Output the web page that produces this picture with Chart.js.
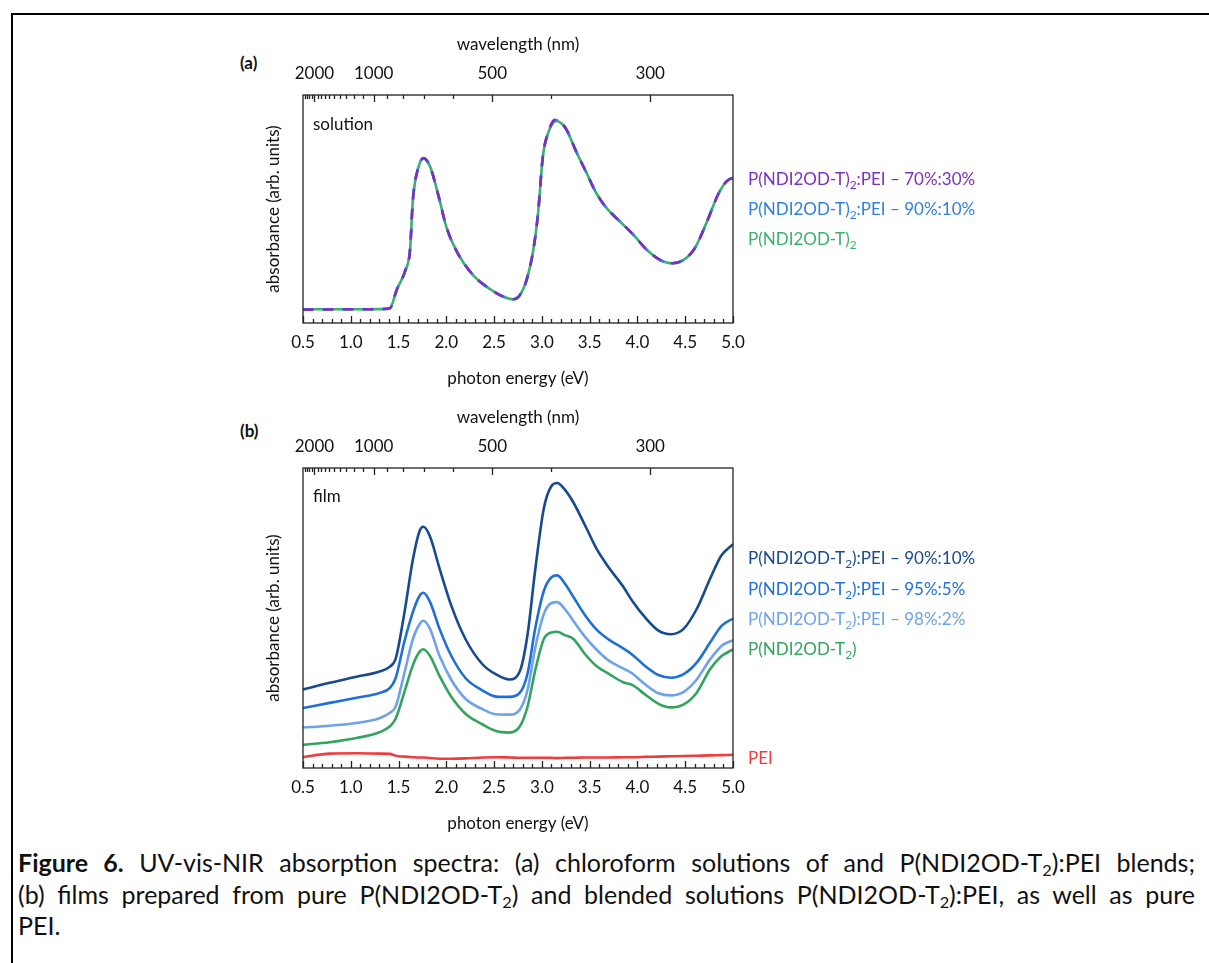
<!DOCTYPE html>
<html>
<head>
<meta charset="utf-8">
<script src="https://cdn.jsdelivr.net/npm/chart.js@4.4.0/dist/chart.umd.min.js"></script>
<style>
    body { margin: 0; background: #fff; font-family: Lato, sans-serif; color: #111; }
    #page { position: relative; width: 1209px; height: 963px; overflow: hidden; background: #fff; }
    #frame { position: absolute; left: 11px; top: 13px; width: 1300px; height: 1000px;
             border-left: 2px solid #000; border-top: 2px solid #000; }
    .abs { position: absolute; white-space: nowrap; }
    canvas { position: absolute; }
    .tag { font-size: 17px; font-weight: bold; }
    .inset { font-size: 17px; }
    .leg { font-size: 17px; line-height: 20px; }
    .leg sub { font-size: 0.7em; vertical-align: -0.3em; line-height: 0; }
    .cap { position: absolute; left: 18px; width: 1177px; font-size: 20px; line-height: 24px;
           text-align: left; white-space: nowrap; }
    .cap.just { text-align: justify; text-align-last: justify; }
    .cap.last { text-align-last: left; }
    .cap sub { font-size: 0.65em; vertical-align: -0.25em; line-height: 0; }
</style>
</head>
<body>
<div id="page">
    <div id="frame"></div>

    <div class="abs tag" style="left:240px; top:52px;">(a)</div>
    <div class="abs tag" style="left:240px; top:420px;">(b)</div>

    <canvas id="chart-a" width="520" height="365" style="left:240px; top:30px;"></canvas>
    <canvas id="chart-b" width="520" height="437" style="left:240px; top:403px;"></canvas>

    <div class="abs inset" style="left:313px; top:113px;">solution</div>
    <div class="abs inset" style="left:313px; top:485px;">film</div>

    <div class="abs leg" style="left:748px; top:169px; color:#7d2fc2;">P(NDI2OD-T)<sub>2</sub>:PEI – 70%:30%</div>
    <div class="abs leg" style="left:748px; top:199px; color:#2f80e0;">P(NDI2OD-T)<sub>2</sub>:PEI – 90%:10%</div>
    <div class="abs leg" style="left:748px; top:229px; color:#3db16b;">P(NDI2OD-T)<sub>2</sub></div>

    <div class="abs leg" style="left:748px; top:548px; color:#174a90;">P(NDI2OD-T<sub>2</sub>):PEI – 90%:10%</div>
    <div class="abs leg" style="left:748px; top:579px; color:#1f6fd8;">P(NDI2OD-T<sub>2</sub>):PEI – 95%:5%</div>
    <div class="abs leg" style="left:748px; top:609px; color:#6ea2ea;">P(NDI2OD-T<sub>2</sub>):PEI – 98%:2%</div>
    <div class="abs leg" style="left:748px; top:639px; color:#33a35f;">P(NDI2OD-T<sub>2</sub>)</div>
    <div class="abs leg" style="left:748px; top:748px; color:#f03c3c;">PEI</div>

    <div class="cap" id="cap1" style="top:850px;"><span><b>Figure 6.</b> UV-vis-NIR absorption spectra: (a) chloroform solutions of and P(NDI2OD-T<sub>2</sub>):PEI blends;</span></div>
    <div class="cap" style="top:882px;"><span>(b) films prepared from pure P(NDI2OD-T<sub>2</sub>) and blended solutions P(NDI2OD-T<sub>2</sub>):PEI, as well as pure</span></div>
    <div class="cap last" style="top:913px;"><span>PEI.</span></div>
</div>

<script>
// Axis ticks
const energyMajor = [0.5, 1.0, 1.5, 2.0, 2.5, 3.0, 3.5, 4.0, 4.5, 5.0];
const wavelengthTicks = [2400, 2300, 2200, 2100, 2000, 1900, 1800, 1700, 1600, 1500, 1400, 1300, 1200, 1100,
                         1000, 900, 800, 700, 600, 500, 400, 300];
const wavelengthLabels = [2000, 1000, 500, 300];

// (a) solutions, photon energy (eV) vs absorbance (arb. units)
const energyA = [0.5, 0.7, 0.9, 1.1, 1.3, 1.41, 1.48, 1.57, 1.62, 1.65, 1.71, 1.76, 1.83, 1.92, 2.00, 2.11,
                 2.28, 2.46, 2.60, 2.70, 2.77, 2.84, 2.91, 2.96, 3.01, 3.07, 3.12, 3.15, 3.21, 3.26, 3.36,
                 3.47, 3.57, 3.68, 3.82, 3.96, 4.10, 4.24, 4.36, 4.48, 4.60, 4.72, 4.85, 4.93, 5.0];
const sol70 = [5.8, 5.9, 6.0, 6.0, 6.1, 6.5, 14.5, 23.0, 32.0, 54.0, 68.6, 72.4, 68.6, 55.4, 42.2, 31.3,
               21.0, 14.8, 11.5, 10.4, 12.3, 18.9, 32.0, 48.1, 73.0, 84.2, 88.8, 89.3, 87.6, 84.6, 75.1,
               65.6, 56.9, 50.3, 44.4, 38.6, 32.0, 27.6, 26.2, 27.6, 32.8, 43.7, 56.9, 62.0, 63.8];
const sol90 = [6.0, 6.0, 6.0, 6.0, 6.1, 6.5, 14.5, 23.0, 32.0, 54.0, 68.6, 72.2, 68.6, 55.4, 42.2, 31.3,
               21.0, 14.8, 11.5, 10.4, 12.3, 18.9, 32.0, 48.1, 73.0, 83.9, 88.3, 89.0, 87.6, 84.6, 75.1,
               65.6, 56.9, 50.3, 44.4, 38.6, 32.0, 27.6, 26.2, 27.6, 32.8, 43.7, 56.9, 62.0, 63.8];
const solPure = [6.0, 6.0, 6.0, 6.0, 6.1, 6.5, 14.5, 23.0, 32.0, 54.0, 68.6, 72.2, 68.6, 55.4, 42.2, 31.3,
                 21.0, 14.8, 11.5, 10.4, 12.3, 18.9, 32.0, 48.1, 73.0, 83.9, 88.0, 88.6, 87.4, 84.6, 75.1,
                 65.6, 56.9, 50.3, 44.4, 38.6, 32.0, 27.6, 26.2, 27.6, 32.8, 43.7, 56.9, 62.0, 63.8];

// (b) films
const energyB = [0.5, 0.78, 1.06, 1.3, 1.41, 1.47, 1.56, 1.65, 1.72, 1.76, 1.83, 1.93, 2.05, 2.2, 2.38, 2.52,
                 2.66, 2.77, 2.85, 2.93, 3.02, 3.10, 3.16, 3.24, 3.33, 3.45, 3.57, 3.70, 3.85, 3.95, 4.08,
                 4.22, 4.35, 4.48, 4.62, 4.76, 4.88, 5.0];
const film90 = [26.2, 28.4, 30.4, 32.2, 33.8, 36.5, 51.5, 69.5, 79.0, 80.4, 77.1, 66.4, 54.3, 43.0, 34.5, 31.2,
                29.5, 32.3, 44.5, 66.0, 86.5, 94.0, 95.0, 92.8, 88.5, 81.0, 73.2, 66.8, 60.5, 55.5, 50.2,
                45.8, 44.6, 46.3, 53.0, 63.1, 70.9, 74.6];
const film95 = [20.0, 21.7, 23.4, 25.0, 26.7, 30.0, 42.0, 52.0, 57.4, 58.4, 55.3, 46.3, 37.5, 30.0, 25.8, 23.8,
                23.7, 25.1, 31.5, 46.5, 59.0, 63.6, 64.2, 61.5, 57.0, 51.0, 46.2, 42.8, 39.9, 37.7, 34.0,
                31.0, 30.1, 31.2, 35.1, 41.8, 47.4, 49.8];
const film98 = [13.5, 14.1, 15.0, 16.6, 18.4, 20.5, 31.5, 43.0, 48.0, 49.1, 46.3, 37.3, 29.5, 23.1, 19.6, 17.9,
                17.8, 19.5, 26.0, 40.0, 51.3, 55.0, 55.3, 53.0, 49.0, 43.8, 39.5, 35.8, 33.2, 31.4, 27.9,
                24.9, 24.2, 25.3, 29.5, 36.2, 40.7, 42.6];
const filmPure = [7.7, 8.6, 10.0, 11.9, 13.9, 16.5, 25.2, 34.3, 38.8, 39.6, 37.3, 30.6, 23.8, 18.1, 14.5, 12.3,
                  11.8, 13.9, 20.5, 32.5, 43.0, 45.2, 45.4, 44.3, 43.0, 38.0, 34.0, 31.4, 28.6, 27.6, 24.5,
                  21.4, 20.2, 21.1, 25.1, 32.9, 37.3, 39.5];
const filmPEI = [3.6, 4.8, 4.9, 4.8, 4.7, 4.1, 3.8, 3.6, 3.5, 3.5, 3.3, 3.1, 3.1, 3.2, 3.5, 3.6,
                 3.5, 3.4, 3.4, 3.4, 3.4, 3.4, 3.3, 3.4, 3.4, 3.5, 3.5, 3.5, 3.6, 3.6, 3.7,
                 3.8, 3.9, 4.0, 4.1, 4.2, 4.3, 4.4];

const FONT = { family: 'Lato, sans-serif', size: 17 };

// Pair up energies and values for a line dataset
function points(xs, ys) {
    return xs.map((x, i) => ({ x, y: ys[i] }));
}

function line(xs, ys, color, extra) {
    return Object.assign({
        data: points(xs, ys),
        borderColor: color,
        borderWidth: 2.6,
        pointRadius: 0,
        fill: false,
        cubicInterpolationMode: 'monotone'
    }, extra || {});
}

// Frame and inward tick marks, like the original plot style
const frameTicks = {
    id: 'frameTicks',
    afterDatasetsDraw(chart) {
        const { ctx, chartArea: a, scales } = chart;
        ctx.save();
        ctx.strokeStyle = '#222';
        ctx.lineWidth = 1.3;
        ctx.beginPath();
        for (let i = 5; i <= 50; i++) {
            const v = i / 10;
            const x = Math.round(scales.x.getPixelForValue(v)) + 0.5;
            const len = i % 5 === 0 ? 7 : 4;
            ctx.moveTo(x, a.bottom);
            ctx.lineTo(x, a.bottom - len);
        }
        wavelengthTicks.forEach(w => {
            const x = Math.round(scales.x2.getPixelForValue(1240 / w)) + 0.5;
            const len = wavelengthLabels.includes(w) ? 7 : 4;
            ctx.moveTo(x, a.top);
            ctx.lineTo(x, a.top + len);
        });
        ctx.stroke();
        ctx.strokeRect(a.left, a.top, a.right - a.left, a.bottom - a.top);
        ctx.restore();
    }
};

function makePanel(id, datasets) {
    const ctx = document.getElementById(id).getContext('2d');
    return new Chart(ctx, {
        type: 'line',
        data: { datasets },
        plugins: [frameTicks],
        options: {
            responsive: false,
            animation: false,
            devicePixelRatio: 1,
            layout: { padding: { left: 0, right: 27, top: 0, bottom: 0 } },
            plugins: { legend: { display: false }, tooltip: { enabled: false } },
            scales: {
                x: {
                    type: 'linear', position: 'bottom', min: 0.5, max: 5.0,
                    grid: { display: false }, border: { display: false },
                    afterBuildTicks: s => { s.ticks = energyMajor.map(v => ({ value: v })); },
                    afterFit: s => { s.height = 72; },
                    ticks: { autoSkip: false, maxRotation: 0, padding: 1, color: '#111', font: FONT,
                             callback: v => v.toFixed(1) },
                    title: { display: true, text: 'photon energy (eV)', color: '#111', font: FONT,
                             padding: { top: 0, bottom: 6 } }
                },
                x2: {
                    type: 'linear', position: 'top', min: 0.5, max: 5.0,
                    grid: { display: false }, border: { display: false },
                    afterBuildTicks: s => { s.ticks = wavelengthTicks.map(w => ({ value: 1240 / w })); },
                    afterFit: s => { s.height = 65; },
                    ticks: { autoSkip: false, maxRotation: 0, padding: 3, color: '#111', font: FONT,
                             callback: v => {
                                 const w = Math.round(1240 / v);
                                 return wavelengthLabels.includes(w) ? String(w) : '';
                             } },
                    title: { display: true, text: 'wavelength (nm)', color: '#111', font: FONT,
                             padding: { top: 4, bottom: 0 } }
                },
                y: {
                    min: 0, max: 100,
                    grid: { display: false }, border: { display: false },
                    ticks: { display: false },
                    afterFit: s => { s.width = 63; },
                    title: { display: true, text: 'absorbance (arb. units)', color: '#111', font: FONT,
                             padding: { top: 23, bottom: 0 } }
                }
            }
        }
    });
}

// Size the caption font so the first line fills the box, then justify
function fitCaption() {
    const w = document.querySelector('#cap1 span').getBoundingClientRect().width;
    const size = Math.min(25, 20 * 1172 / w);
    document.querySelectorAll('.cap').forEach(c => {
        c.style.fontSize = size.toFixed(2) + 'px';
        c.classList.add('just');
    });
}

window.onload = () => {
    fitCaption();
    makePanel('chart-a', [
        line(energyA, sol70, '#7d2fc2', { borderDash: [10, 10] }),
        line(energyA, sol90, '#2f80e0', { borderDash: [12, 8], borderDashOffset: 1 }),
        line(energyA, solPure, '#3db16b')
    ]);
    makePanel('chart-b', [
        line(energyB, film90, '#174a90'),
        line(energyB, film95, '#1f6fd8'),
        line(energyB, film98, '#6ea2ea'),
        line(energyB, filmPure, '#33a35f'),
        line(energyB, filmPEI, '#f03c3c')
    ]);
};
</script>
</body>
</html>
